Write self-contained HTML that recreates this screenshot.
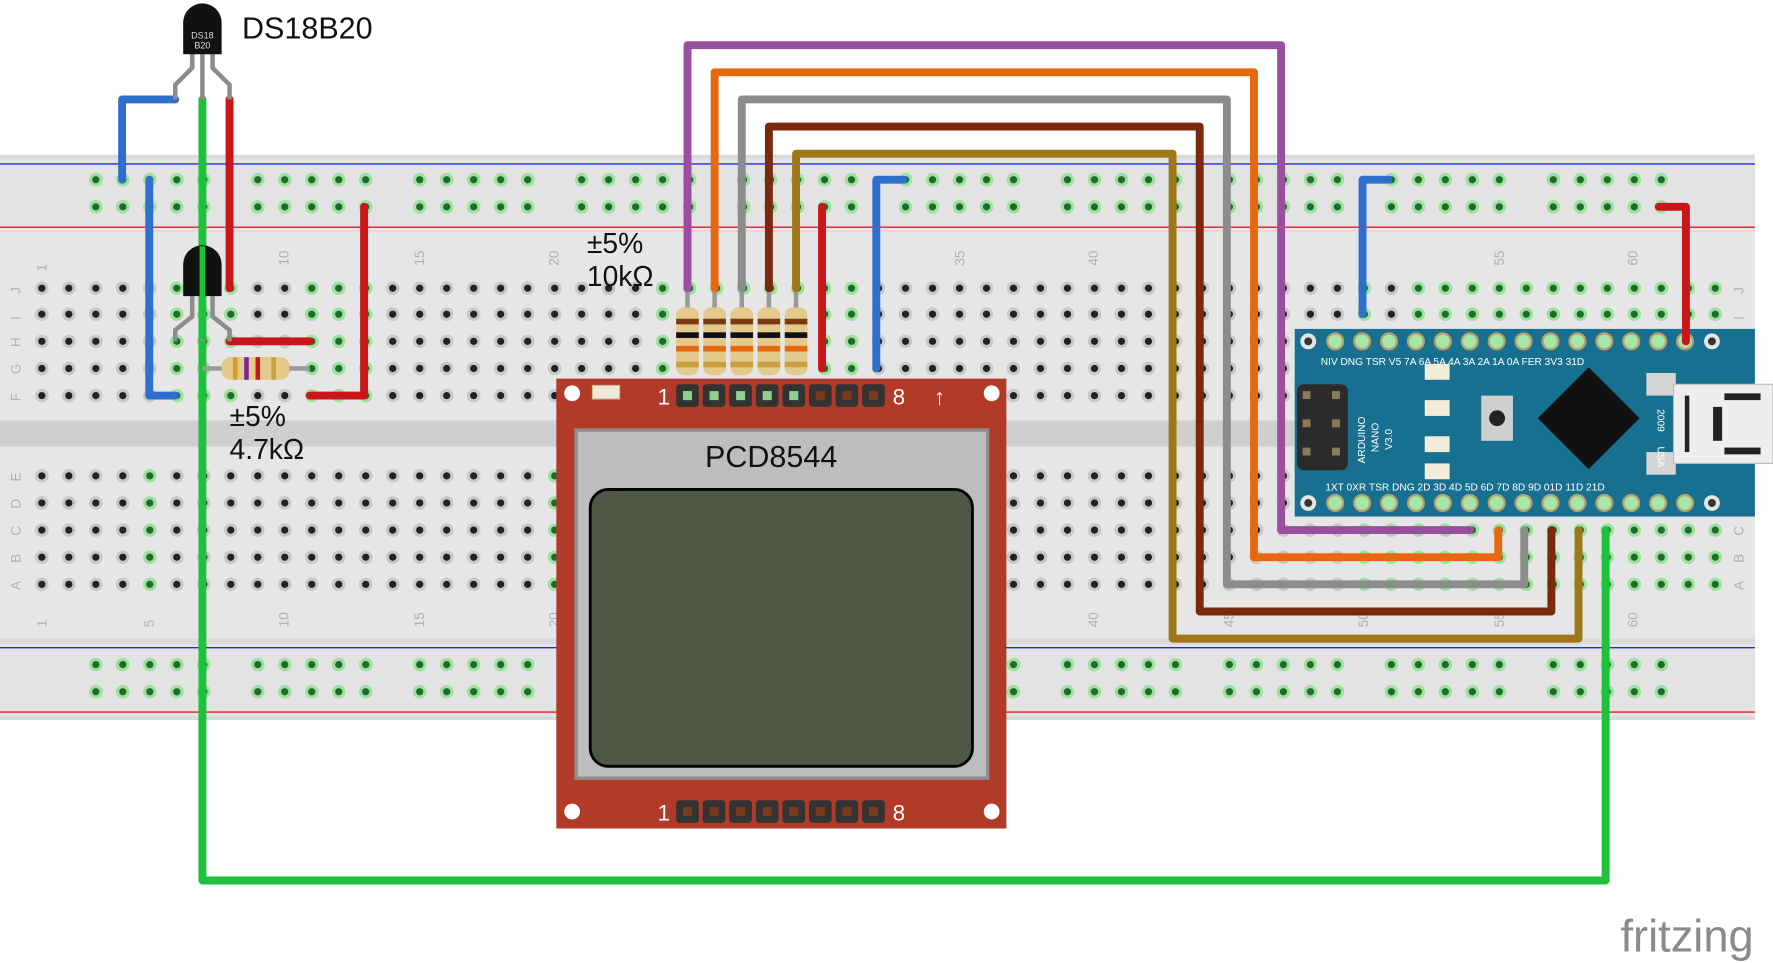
<!DOCTYPE html>
<html><head><meta charset="utf-8"><style>
html,body{margin:0;padding:0;background:#fff;}
svg{display:block;}
text{font-family:"Liberation Sans","DejaVu Sans",sans-serif;}
</style></head><body>
<svg id="s" width="1773" height="963" viewBox="0 0 1568 852" preserveAspectRatio="none" xmlns="http://www.w3.org/2000/svg">
<rect x="0" y="137" width="1552" height="500" fill="#d9d9d9"/>
<rect x="0" y="140" width="1552" height="64" fill="#e3e3e3"/>
<rect x="0" y="205" width="1552" height="167" fill="#e6e6e6"/>
<rect x="0" y="372" width="1552" height="23" fill="#cfcfcf"/>
<rect x="0" y="395" width="1552" height="170" fill="#e6e6e6"/>
<rect x="0" y="570" width="1552" height="64" fill="#e3e3e3"/>
<line x1="0" y1="145" x2="1552" y2="145" stroke="#1a2fd6" stroke-width="1.2"/>
<line x1="0" y1="201" x2="1552" y2="201" stroke="#e02020" stroke-width="1.2"/>
<line x1="0" y1="573" x2="1552" y2="573" stroke="#1a2fd6" stroke-width="1.2"/>
<line x1="0" y1="630" x2="1552" y2="630" stroke="#e02020" stroke-width="1.2"/>
<g id="holes"></g>
<g font-size="12" fill="#b0b0b0">
<text transform="translate(41,240) rotate(-90)">1</text>
<text transform="translate(255,235) rotate(-90)">10</text>
<text transform="translate(375,235) rotate(-90)">15</text>
<text transform="translate(494,235) rotate(-90)">20</text>
<text transform="translate(853,235) rotate(-90)">35</text>
<text transform="translate(971,235) rotate(-90)">40</text>
<text transform="translate(1330,235) rotate(-90)">55</text>
<text transform="translate(1448,235) rotate(-90)">60</text>
<text transform="translate(41,555) rotate(-90)">1</text>
<text transform="translate(136,555) rotate(-90)">5</text>
<text transform="translate(255,555) rotate(-90)">10</text>
<text transform="translate(375,555) rotate(-90)">15</text>
<text transform="translate(494,555) rotate(-90)">20</text>
<text transform="translate(971,555) rotate(-90)">40</text>
<text transform="translate(1091,555) rotate(-90)">45</text>
<text transform="translate(1210,555) rotate(-90)">50</text>
<text transform="translate(1330,555) rotate(-90)">55</text>
<text transform="translate(1448,555) rotate(-90)">60</text>
<text transform="translate(18,260) rotate(-90)">J</text><text transform="translate(18,283) rotate(-90)">I</text><text transform="translate(18,307) rotate(-90)">H</text><text transform="translate(18,331) rotate(-90)">G</text><text transform="translate(18,355) rotate(-90)">F</text>
<text transform="translate(18,426) rotate(-90)">E</text><text transform="translate(18,450) rotate(-90)">D</text><text transform="translate(18,474) rotate(-90)">C</text><text transform="translate(18,498) rotate(-90)">B</text><text transform="translate(18,522) rotate(-90)">A</text>
<text transform="translate(1542,260) rotate(-90)">J</text><text transform="translate(1542,283) rotate(-90)">I</text>
<text transform="translate(1542,474) rotate(-90)">C</text><text transform="translate(1542,498) rotate(-90)">B</text><text transform="translate(1542,522) rotate(-90)">A</text>
</g>

<rect x="492" y="335" width="398" height="398" fill="#b23a28"/>
<rect x="508" y="379" width="367" height="311" fill="#8f8f8f"/>
<rect x="511" y="382" width="361" height="305" fill="#bdbdbd"/>
<rect x="522" y="433" width="338" height="245" rx="16" fill="#4f5847" stroke="#000" stroke-width="2.5"/>
<text x="682" y="413" font-size="27" text-anchor="middle" fill="#111">PCD8544</text>
<circle cx="506" cy="348" r="7" fill="#fff"/><circle cx="877" cy="348" r="7" fill="#fff"/>
<circle cx="506" cy="718" r="7" fill="#fff"/><circle cx="877" cy="718" r="7" fill="#fff"/>
<rect x="524" y="341" width="24" height="12" fill="#f0e8d8" stroke="#c8b890"/>
<g id="lcdpins"></g>
<text x="587" y="358" font-size="20" fill="#fff" text-anchor="middle">1</text>
<text x="795" y="358" font-size="20" fill="#fff" text-anchor="middle">8</text>
<text x="831" y="358" font-size="20" fill="#fff" text-anchor="middle">↑</text>
<text x="587" y="726" font-size="20" fill="#fff" text-anchor="middle">1</text>
<text x="795" y="726" font-size="20" fill="#fff" text-anchor="middle">8</text>

<rect x="1145" y="291" width="407" height="166" fill="#17708f"/>
<rect x="1456" y="330" width="26" height="20" fill="#d5d5d5"/><rect x="1456" y="400" width="26" height="20" fill="#d5d5d5"/>
<rect x="1480" y="340" width="88" height="70" fill="#eeeeee" stroke="#bbb"/>
<g fill="#222"><rect x="1490" y="350" width="4" height="50"/><rect x="1515" y="360" width="8" height="30"/><rect x="1525" y="348" width="32" height="6"/><rect x="1525" y="396" width="32" height="6"/></g>
<polygon points="1405,325 1450,370 1405,415 1360,370" fill="#111"/>
<rect x="1310" y="350" width="28" height="40" fill="#cfcfcf"/><circle cx="1324" cy="370" r="7" fill="#222"/>
<rect x="1147" y="340" width="45" height="76" rx="6" fill="#2b2b2b"/>
<g fill="#8a7a55"><rect x="1152" y="346" width="7" height="7"/><rect x="1178" y="346" width="7" height="7"/><rect x="1152" y="371" width="7" height="7"/><rect x="1178" y="371" width="7" height="7"/><rect x="1152" y="396" width="7" height="7"/><rect x="1178" y="396" width="7" height="7"/></g>
<g fill="#f3ecd8"><rect x="1260" y="322" width="22" height="14"/><rect x="1260" y="354" width="22" height="14"/><rect x="1260" y="386" width="22" height="14"/><rect x="1260" y="410" width="22" height="14"/></g>
<g font-family="Liberation Mono" font-size="9" fill="#fff">
<text x="1168" y="323">NIV DNG TSR V5 7A 6A 5A 4A 3A 2A 1A 0A FER 3V3 31D</text>
<text x="1172" y="434">1XT 0XR TSR DNG 2D 3D 4D 5D 6D 7D 8D 9D 01D 11D 21D</text>
<text transform="translate(1207,410) rotate(-90)">ARDUINO</text>
<text transform="translate(1219,400) rotate(-90)">NANO</text>
<text transform="translate(1231,398) rotate(-90)">V3.0</text>
<text transform="translate(1466,362) rotate(90)">2009</text>
<text transform="translate(1466,395) rotate(90)">USA</text>
</g>
<g id="ardpins"></g>

<g id="res10"></g>
<text x="519" y="224" font-size="25" fill="#111">±5%</text>
<text x="519" y="253" font-size="25" fill="#111">10kΩ</text>

<g fill="none" stroke-width="7" stroke-linejoin="round" stroke-linecap="round">
<polyline points="608,255 608,40 1133,40 1133,469 1300,469" stroke="#9a4e9e"/>
<polyline points="632,255 632,64 1109,64 1109,493 1325,493 1325,469" stroke="#e8680f"/>
<polyline points="656,255 656,88 1085,88 1085,517 1348,517 1348,469" stroke="#8c8c8c"/>
<polyline points="680,255 680,112 1061,112 1061,541 1372,541 1372,469" stroke="#7a2a0a"/>
<polyline points="704,255 704,136 1037,136 1037,565 1396,565 1396,469" stroke="#9c7818"/>
<polyline points="727,183 727,326" stroke="#c8161a"/>
<polyline points="799,159 775,159 775,326" stroke="#2f6fcc"/>
<polyline points="155,88 108,88 108,159" stroke="#2f6fcc"/>
<polyline points="132,159 132,350 155,350" stroke="#2f6fcc"/>
<polyline points="203,88 203,255" stroke="#c8161a"/>
<polyline points="203,302 274,302" stroke="#c8161a"/>
<polyline points="322,183 322,350 274,350" stroke="#c8161a"/>
<polyline points="1228,159 1205,159 1205,278" stroke="#2f6fcc"/>
<polyline points="1467,183 1491,183 1491,302" stroke="#c8161a"/>
<polyline points="179,88 179,779 1420,779 1420,469" stroke="#1cc23a"/>
</g>

<g stroke="#8c8c8c" stroke-width="4" fill="none"><polyline points="170,45 170,60 155,75 155,88"/><polyline points="179,45 179,88"/><polyline points="188,45 188,60 203,75 203,88"/></g>
<path d="M162,48 V20 A17,17 0 0 1 196,20 V48 Z" fill="#111"/>
<text x="179" y="34" font-size="8" fill="#ddd" text-anchor="middle">DS18</text><text x="179" y="43" font-size="8" fill="#ddd" text-anchor="middle">B20</text>
<text x="214" y="34" font-size="27" fill="#111">DS18B20</text>
<g stroke="#8c8c8c" stroke-width="4" fill="none"><polyline points="170,262 170,280 155,292 155,302"/><polyline points="179,262 179,302"/><polyline points="188,262 188,280 203,292 203,302"/></g>
<path d="M162,262 V234 A17,17 0 0 1 196,234 V262 Z" fill="#111"/>
<line x1="179" y1="218" x2="179" y2="300" stroke="#1cc23a" stroke-width="5"/>
<line x1="179" y1="326" x2="274" y2="326" stroke="#999" stroke-width="4"/>
<rect x="196" y="316" width="60" height="20" rx="8" fill="#e3c98a"/>
<rect x="206" y="316" width="4" height="20" fill="#d4a020"/><rect x="216" y="316" width="4" height="20" fill="#7a1fa0"/><rect x="226" y="316" width="4" height="20" fill="#c81818"/><rect x="240" y="316" width="4" height="20" fill="#c8a040"/>
<text x="203" y="377" font-size="25" fill="#111">±5%</text>
<text x="203" y="406" font-size="25" fill="#111">4.7kΩ</text>

<text x="1492" y="842" font-size="40" fill="#8a8a8a" text-anchor="middle">fritzing</text>

<script>
(function(){
var NS="http://www.w3.org/2000/svg";
function el(p,t,a){var e=document.createElementNS(NS,t);for(var k in a)e.setAttribute(k,a[k]);p.appendChild(e);return e;}
var H=document.getElementById("holes");
function hx(c){return 37+(c-1)*23.87;}
function hole(x,y,g){el(H,"circle",{cx:x,cy:y,r:6,fill:g?"#9ee09e":"#c8c8c8"});el(H,"circle",{cx:x,cy:y,r:3.2,fill:g?"#1f6b2a":"#222"});}
var rails=[159,183,588,612];
for(var c=3;c<=61;c++){if((c-3)%6==5)continue;rails.forEach(function(y){hole(hx(c),y,true);});}
var rowsT=[255,278,302,326,350],rowsB=[421,445,469,493,517];
var gT={6:1,7:1,8:1,11:1,12:1,13:1,24:1,25:1,26:1,27:1,28:1,29:1,30:1,31:1,50:1,52:1,53:1,54:1,55:1,56:1,57:1,58:1,59:1,60:1,61:1,62:1,63:1};
var gB={5:1,20:1,50:1,51:1,52:1,53:1,54:1,55:1,56:1,57:1,58:1,59:1,60:1,61:1,62:1,63:1};
for(var c=1;c<=63;c++){rowsT.forEach(function(y){hole(hx(c),y,!!gT[c]);});rowsB.forEach(function(y){hole(hx(c),y,!!gB[c]);});}
var L=document.getElementById("lcdpins");
for(var i=0;i<8;i++){var x=608+i*23.5;[350,718].forEach(function(y){el(L,"rect",{x:x-10,y:y-10,width:20,height:20,rx:3,fill:"#333"});el(L,"rect",{x:x-4,y:y-4,width:8,height:8,fill:(y==350&&i<5)?"#8fd08f":"#7a3a20"});});}
var A=document.getElementById("ardpins");
for(var i=0;i<16;i++){var x=1157+i*23.8;[302,445].forEach(function(y){if(i==0||i==15){el(A,"circle",{cx:x,cy:y,r:7,fill:"#e5e5e5"});el(A,"circle",{cx:x,cy:y,r:3.5,fill:"#333"});}else{el(A,"circle",{cx:x,cy:y,r:8,fill:"#b8a070"});el(A,"circle",{cx:x,cy:y,r:6,fill:"#a6e6a6"});}});}
var R=document.getElementById("res10");
for(var i=0;i<5;i++){var x=608+i*24;el(R,"line",{x1:x,y1:255,x2:x,y2:330,stroke:"#999","stroke-width":4});el(R,"rect",{x:x-10,y:272,width:20,height:60,rx:7,fill:"#e3c98a"});
[["#7a3a10",282],["#111",294],["#e8680f",306],["#c8a040",320]].forEach(function(b){el(R,"rect",{x:x-10,y:b[1],width:20,height:5,fill:b[0]});});}
})();
</script>
</svg>
</body></html>
